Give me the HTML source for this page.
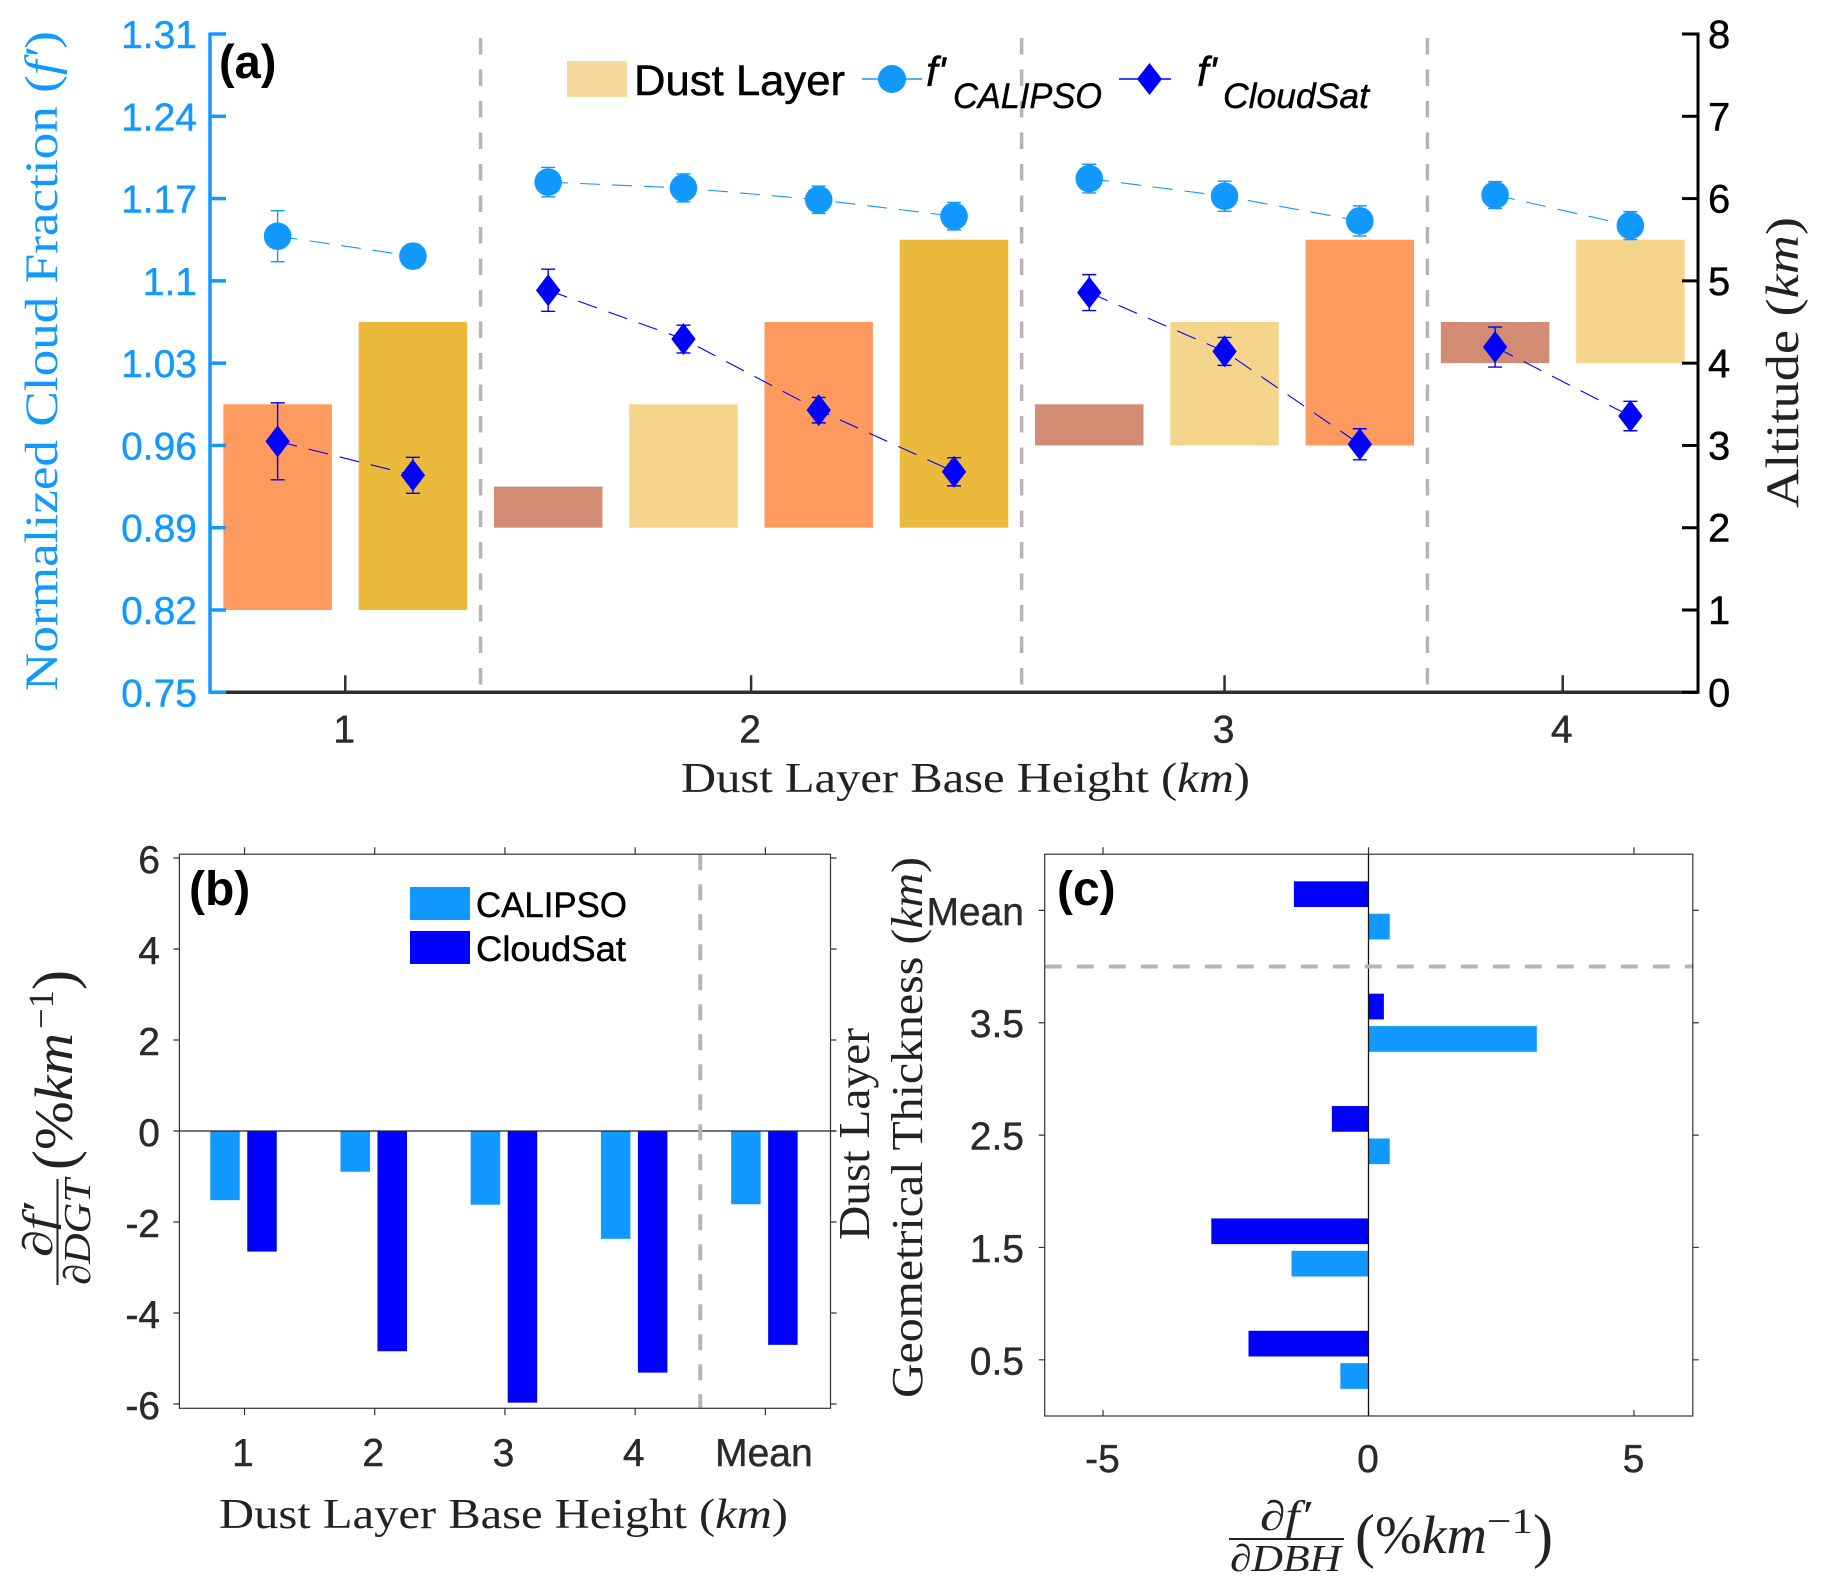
<!DOCTYPE html>
<html lang="en">
<head>
<meta charset="utf-8">
<title>Dust layer cloud fraction chart</title>
<style>
html,body{margin:0;padding:0;background:#fff;width:1828px;height:1590px;overflow:hidden}
svg{display:block}
.sans{font-family:"Liberation Sans",Arial,sans-serif}
.serif{font-family:"Liberation Serif","Times New Roman",serif}
</style>
</head>
<body>
<svg id="figure" xmlns="http://www.w3.org/2000/svg" width="1828" height="1590" viewBox="0 0 1828 1590">
  <rect x="0" y="0" width="1828" height="1590" fill="#ffffff"/>
  <g id="panelA"></g>
  <g id="panelB"></g>
  <g id="panelC"></g>

  <!-- panel a static text and legend -->
  <text class="sans" x="219" y="78" font-size="47" font-weight="bold" fill="#000">(a)</text>
  <text class="serif" transform="rotate(-90 57 691)" x="57" y="691" font-size="47" fill="#1199ff" textLength="660" lengthAdjust="spacingAndGlyphs">Normalized Cloud Fraction (<tspan font-style="italic">f′</tspan>)</text>
  <text class="serif" transform="rotate(-90 1798 508)" x="1798" y="508" font-size="47" fill="#222" textLength="291" lengthAdjust="spacingAndGlyphs">Altitude (<tspan font-style="italic">km</tspan>)</text>
  <text class="serif" x="681" y="792" font-size="42" fill="#222" textLength="569" lengthAdjust="spacingAndGlyphs">Dust Layer Base Height (<tspan font-style="italic">km</tspan>)</text>

  <g>
    <rect x="567" y="61" width="60" height="36" fill="#f6da9c"/>
    <text class="sans" x="634" y="95" font-size="43" fill="#000" stroke="#000" stroke-width="0.5" textLength="211" lengthAdjust="spacingAndGlyphs">Dust Layer</text>
    <line x1="862" y1="79" x2="922" y2="79" stroke="#1199ff" stroke-width="1.5"/>
    <circle cx="892" cy="79" r="14" fill="#1199ff"/>
    <text class="sans" x="926" y="86" font-size="42" font-style="italic" fill="#000" stroke="#000" stroke-width="0.4">f'</text>
    <text class="sans" x="953" y="108" font-size="35" font-style="italic" fill="#000" stroke="#000" stroke-width="0.4" textLength="149" lengthAdjust="spacingAndGlyphs">CALIPSO</text>
    <line x1="1119" y1="79" x2="1171" y2="79" stroke="#0000ff" stroke-width="1.5"/>
    <polygon points="1149.5,63 1162,79 1149.5,95 1137,79" fill="#0000ff"/>
    <text class="sans" x="1197" y="86" font-size="42" font-style="italic" fill="#000" stroke="#000" stroke-width="0.4">f'</text>
    <text class="sans" x="1223" y="108" font-size="35" font-style="italic" fill="#000" stroke="#000" stroke-width="0.4" textLength="146" lengthAdjust="spacingAndGlyphs">CloudSat</text>
  </g>

  <!-- panel b static text and legend -->
  <text class="sans" x="189" y="905" font-size="48" font-weight="bold" fill="#000">(b)</text>
  <rect x="410" y="887" width="60" height="33" fill="#1199ff"/>
  <rect x="410" y="931" width="60" height="33" fill="#0000ff"/>
  <text class="sans" x="476" y="917" font-size="35" fill="#000" stroke="#000" stroke-width="0.4" textLength="151" lengthAdjust="spacingAndGlyphs">CALIPSO</text>
  <text class="sans" x="476" y="961" font-size="35" fill="#000" stroke="#000" stroke-width="0.4" textLength="150" lengthAdjust="spacingAndGlyphs">CloudSat</text>
  <text class="serif" x="219" y="1528" font-size="42" fill="#222" textLength="569" lengthAdjust="spacingAndGlyphs">Dust Layer Base Height (<tspan font-style="italic">km</tspan>)</text>
  <g fill="#222" class="serif">
    <text transform="rotate(-90 52 1257)" x="52" y="1257" font-size="42" font-style="italic" textLength="54" lengthAdjust="spacingAndGlyphs">∂f′</text>
    <line x1="57.5" y1="1179" x2="57.5" y2="1285" stroke="#222" stroke-width="2"/>
    <text transform="rotate(-90 90 1285)" x="90" y="1285" font-size="38" font-style="italic" textLength="106" lengthAdjust="spacingAndGlyphs">∂DGT</text>
    <text transform="rotate(-90 74 1170)" x="74" y="1170" font-size="60">(</text>
    <text transform="rotate(-90 72 1150)" x="72" y="1150" font-size="54" textLength="117" lengthAdjust="spacingAndGlyphs">%<tspan font-style="italic">km</tspan></text>
    <text transform="rotate(-90 53 1029)" x="53" y="1029" font-size="36" textLength="39" lengthAdjust="spacingAndGlyphs">−1</text>
    <text transform="rotate(-90 74 990)" x="74" y="990" font-size="60">)</text>
  </g>

  <!-- panel c static text -->
  <text class="sans" x="1057" y="905" font-size="48" font-weight="bold" fill="#000">(c)</text>
  <text class="serif" transform="rotate(-90 869 1240)" x="869" y="1240" font-size="44" fill="#222" textLength="212" lengthAdjust="spacingAndGlyphs">Dust Layer</text>
  <text class="serif" transform="rotate(-90 922 1398)" x="922" y="1398" font-size="44" fill="#222" textLength="541" lengthAdjust="spacingAndGlyphs">Geometrical Thickness (<tspan font-style="italic">km</tspan>)</text>
  <g fill="#222" class="serif">
    <text x="1260" y="1530" font-size="42" font-style="italic" textLength="51" lengthAdjust="spacingAndGlyphs">∂f′</text>
    <line x1="1229" y1="1539" x2="1344" y2="1539" stroke="#222" stroke-width="2"/>
    <text x="1230" y="1571" font-size="38" font-style="italic" textLength="111" lengthAdjust="spacingAndGlyphs">∂DBH</text>
    <text x="1355" y="1556" font-size="60">(</text>
    <text x="1375" y="1553" font-size="54" textLength="112" lengthAdjust="spacingAndGlyphs">%<tspan font-style="italic">km</tspan></text>
    <text x="1487" y="1533" font-size="36" textLength="46" lengthAdjust="spacingAndGlyphs">−1</text>
    <text x="1533" y="1556" font-size="60">)</text>
  </g>
</svg>

<script>
// ---------- Panel (a) data ----------
const aLayerBases = [1, 1, 2, 2, 2, 2, 3, 3, 3, 4, 4];
const aLayerTops = [3.5, 4.5, 2.5, 3.5, 4.5, 5.5, 3.5, 4.5, 5.5, 4.5, 5.5];
const aCalipso = [1.138, 1.121, 1.184, 1.179, 1.169, 1.155, 1.187, 1.172, 1.151, 1.173, 1.147];
const aCalipsoErr = [0.0217, 0.010, 0.0125, 0.0119, 0.0116, 0.0117, 0.0122, 0.0128, 0.0128, 0.0115, 0.0119];
const aCloudsat = [0.9635, 0.9346, 1.092, 1.0505, 0.990, 0.9376, 1.090, 1.040, 0.961, 1.0437, 0.985];
const aCloudsatErr = [0.0327, 0.0153, 0.0179, 0.0118, 0.0108, 0.0120, 0.0153, 0.0119, 0.0132, 0.0170, 0.0125];
const aLeftTickLabels = ['0.75', '0.82', '0.89', '0.96', '1.03', '1.1', '1.17', '1.24', '1.31'];
const aRightTickLabels = ['0', '1', '2', '3', '4', '5', '6', '7', '8'];
const aXTickLabels = ['1', '2', '3', '4'];
const aXTickIndex = [1.5, 4.5, 8, 10.5];
const aSeparators = [2.5, 6.5, 9.5];

// ---------- Panel (b) data ----------
const bCategories = ['1', '2', '3', '4', 'Mean'];
const bCalipso = [-1.52, -0.895, -1.62, -2.37, -1.61];
const bCloudsat = [-2.65, -4.84, -5.97, -5.31, -4.70];
const bYTickLabels = ['-6', '-4', '-2', '0', '2', '4', '6'];

// ---------- Panel (c) data ----------
const cCategories = ['0.5', '1.5', '2.5', '3.5', 'Mean'];
const cCalipso = [-0.53, -1.45, 0.40, 3.17, 0.40];
const cCloudsat = [-2.26, -2.96, -0.69, 0.29, -1.405];
const cXTickLabels = ['-5', '0', '5'];

// ---------- Helpers ----------
const SVG_NS = 'http://www.w3.org/2000/svg';
const SANS = '"Liberation Sans", Arial, sans-serif';
const BLUE = '#1199ff';
const DEEP = '#0000ff';
const INK = '#2a2a2a';
const GREY = '#b5b5b5';
const TICK_FONT = 39;

function add(parent, tag, attrs, text) {
  const node = document.createElementNS(SVG_NS, tag);
  for (const k in attrs) node.setAttribute(k, attrs[k]);
  if (text !== undefined) node.textContent = text;
  parent.appendChild(node);
  return node;
}
let el;

// ---------- Panel (a) ----------
const pa = document.getElementById('panelA');
const aBox = { left: 210, right: 1698, top: 34, bottom: 692.3 };
const aX = v => aBox.left + (v - 0.5) * (aBox.right - aBox.left) / 11;
const aYLeft = v => aBox.bottom - (v - 0.75) * (aBox.bottom - aBox.top) / 0.56;
const aYRight = v => aBox.bottom - v * (aBox.bottom - aBox.top) / 8;
const thicknessColors = { '0.5': '#d38c74', '1.5': '#f5d58c', '2.5': '#ff9a5e', '3.5': '#ebb93c' };
const aBarWidth = 108.5;

aLayerBases.forEach((base, i) => {
  const top = aLayerTops[i];
  el = add(pa, 'rect', {
    x: aX(i + 1) - aBarWidth / 2,
    y: aYRight(top),
    width: aBarWidth,
    height: aYRight(base) - aYRight(top),
    fill: thicknessColors[String(top - base)]
  });
  
  
});

aSeparators.forEach(v => {
  el = add(pa, 'line', { x1: aX(v), x2: aX(v), y1: 38, y2: aBox.bottom, stroke: GREY, 'stroke-width': 3.5, 'stroke-dasharray': '16.5 15' });
  
  
});

// axes
el = add(pa, 'line', { x1: aBox.left, x2: aBox.right, y1: aBox.bottom, y2: aBox.bottom, stroke: '#2f2f2f', 'stroke-width': 3.5 });


el = add(pa, 'line', { x1: aBox.left, x2: aBox.left, y1: aBox.top - 1.5, y2: aBox.bottom + 1.5, stroke: BLUE, 'stroke-width': 3.5 });


el = add(pa, 'line', { x1: aBox.right, x2: aBox.right, y1: aBox.top - 1.5, y2: aBox.bottom + 1.5, stroke: '#000', 'stroke-width': 3 });



aLeftTickLabels.forEach(label => {
  const y = aYLeft(parseFloat(label));
  el = add(pa, 'line', { x1: aBox.left, x2: aBox.left + 16, y1: y, y2: y, stroke: BLUE, 'stroke-width': 3.5 });
  
  
  el = add(pa, 'text', { x: 197, y: y + 14, 'text-anchor': 'end', 'font-family': SANS, 'font-size': TICK_FONT, fill: BLUE, stroke: BLUE, 'stroke-width': 0.4 }, label);
  
  
});

aRightTickLabels.forEach(label => {
  const y = aYRight(parseFloat(label));
  el = add(pa, 'line', { x1: aBox.right - 16, x2: aBox.right, y1: y, y2: y, stroke: '#000', 'stroke-width': 3 });
  
  
  el = add(pa, 'text', { x: 1708, y: y + 14, 'font-family': SANS, 'font-size': 40, fill: '#000', stroke: '#000', 'stroke-width': 0.4 }, label);
  
  
});

aXTickLabels.forEach((label, i) => {
  const x = aX(aXTickIndex[i]);
  el = add(pa, 'line', { x1: x, x2: x, y1: aBox.bottom - 17, y2: aBox.bottom, stroke: '#2f2f2f', 'stroke-width': 2.5 });
  
  
  el = add(pa, 'text', { x: x - 1, y: 742.5, 'text-anchor': 'middle', 'font-family': SANS, 'font-size': TICK_FONT, fill: INK, stroke: INK, 'stroke-width': 0.4 }, label);
  
  
});

// series: a dashed connector per base-height group, then error bars and markers
function drawSeries(values, errors, color, seriesName, markerKind) {
  let group = [];
  values.forEach((v, i) => {
    group.push(aX(i + 1) + ',' + aYLeft(v));
    const endsGroup = i === values.length - 1 || aLayerBases[i + 1] !== aLayerBases[i];
    if (endsGroup) {
      el = add(pa, 'polyline', { points: group.join(' '), fill: 'none', stroke: color, 'stroke-width': 1.1, 'stroke-dasharray': '20 12' });
      
      
      group = [];
    }
  });
  values.forEach((v, i) => {
    const x = aX(i + 1);
    const y = aYLeft(v);
    const hi = aYLeft(v + errors[i]);
    const lo = aYLeft(v - errors[i]);
    el = add(pa, 'path', {
      d: 'M' + x + ' ' + hi + 'V' + lo + 'M' + (x - 7) + ' ' + hi + 'H' + (x + 7) + 'M' + (x - 7) + ' ' + lo + 'H' + (x + 7),
      fill: 'none', stroke: color, 'stroke-width': 1.4
    });
    
    
    if (markerKind === 'circle') {
      el = add(pa, 'circle', { cx: x, cy: y, r: 13.8, fill: color });
    } else {
      el = add(pa, 'polygon', {
        points: x + ',' + (y - 16) + ' ' + (x + 12.2) + ',' + y + ' ' + x + ',' + (y + 16) + ' ' + (x - 12.2) + ',' + y,
        fill: color
      });
    }
    
    
  });
}
drawSeries(aCalipso, aCalipsoErr, BLUE, 'calipso', 'circle');
drawSeries(aCloudsat, aCloudsatErr, DEEP, 'cloudsat', 'diamond');

// ---------- Panel (b) ----------
const pb = document.getElementById('panelB');
const bBox = { left: 179.4, right: 830.5, top: 854.2, bottom: 1408.3 };
const bX = v => bBox.left + (v - 0.5) * (bBox.right - bBox.left) / 5;
const bY = v => 1131 - v * 45.5;
const bBarWidth = 29.5;
const bOffset = 18.5;

bCategories.forEach((label, i) => {
  const cx = bX(i + 1);
  el = add(pb, 'rect', { x: cx - 1 - bOffset - bBarWidth / 2, y: bY(0), width: bBarWidth, height: bY(bCalipso[i]) - bY(0), fill: BLUE });
  
  
  el = add(pb, 'rect', { x: cx - 1 + bOffset - bBarWidth / 2, y: bY(0), width: bBarWidth, height: bY(bCloudsat[i]) - bY(0), fill: DEEP });
  
  
  el = add(pb, 'path', { d: 'M' + cx + ' ' + bBox.top + 'v-7M' + cx + ' ' + bBox.bottom + 'v7', stroke: '#333', 'stroke-width': 1.2, fill: 'none' });
  
  
  el = add(pb, 'text', { x: cx - 1.5, y: 1466, 'text-anchor': 'middle', 'font-family': SANS, 'font-size': TICK_FONT, fill: INK, stroke: INK, 'stroke-width': 0.4 }, label);
  
  
});

bYTickLabels.forEach(label => {
  const y = bY(parseFloat(label));
  el = add(pb, 'path', { d: 'M' + bBox.left + ' ' + y + 'h-6M' + bBox.right + ' ' + y + 'h6', stroke: '#333', 'stroke-width': 1.2, fill: 'none' });
  
  
  el = add(pb, 'text', { x: 160, y: y + 15, 'text-anchor': 'end', 'font-family': SANS, 'font-size': TICK_FONT, fill: INK, stroke: INK, 'stroke-width': 0.4 }, label);
  
  
});

el = add(pb, 'line', { x1: bBox.left, x2: bBox.right + 6, y1: bY(0), y2: bY(0), stroke: '#222', 'stroke-width': 1.3 });


el = add(pb, 'line', { x1: bX(4.5), x2: bX(4.5), y1: bBox.top, y2: bBox.bottom, stroke: GREY, 'stroke-width': 4, 'stroke-dasharray': '16 14' });


el = add(pb, 'rect', { x: bBox.left, y: bBox.top, width: bBox.right - bBox.left, height: bBox.bottom - bBox.top, fill: 'none', stroke: '#333', 'stroke-width': 1.2 });



// ---------- Panel (c) ----------
const pc = document.getElementById('panelC');
const cBox = { left: 1044.7, right: 1692.8, top: 854.2, bottom: 1416 };
const cX = v => 1368.5 + v * 53.1;
const cY = v => cBox.bottom - v * (cBox.bottom - cBox.top) / 5;
const cBarHeight = 25.7;
const cOffset = 16.2;

cCategories.forEach((label, i) => {
  const cy = cY(i + 0.5);
  const calX = cX(cCalipso[i]);
  const cldX = cX(cCloudsat[i]);
  el = add(pc, 'rect', { x: Math.min(calX, cX(0)), y: cy + cOffset - cBarHeight / 2, width: Math.abs(calX - cX(0)), height: cBarHeight, fill: BLUE });
  
  
  el = add(pc, 'rect', { x: Math.min(cldX, cX(0)), y: cy - cOffset - cBarHeight / 2, width: Math.abs(cldX - cX(0)), height: cBarHeight, fill: DEEP });
  
  
  el = add(pc, 'path', { d: 'M' + cBox.left + ' ' + cy + 'h-6M' + cBox.right + ' ' + cy + 'h6', stroke: '#333', 'stroke-width': 1.2, fill: 'none' });
  
  
  el = add(pc, 'text', { x: 1024, y: cy + 14.5, 'text-anchor': 'end', 'font-family': SANS, 'font-size': TICK_FONT, fill: INK, stroke: INK, 'stroke-width': 0.4 }, label);
  
  
});

cXTickLabels.forEach(label => {
  const x = cX(parseFloat(label));
  el = add(pc, 'path', { d: 'M' + x + ' ' + cBox.top + 'v-7M' + x + ' ' + cBox.bottom + 'v-6', stroke: '#333', 'stroke-width': 1.2, fill: 'none' });
  
  
  el = add(pc, 'text', { x: x - 0.5, y: 1472, 'text-anchor': 'middle', 'font-family': SANS, 'font-size': TICK_FONT, fill: INK, stroke: INK, 'stroke-width': 0.4 }, label);
  
  
});

el = add(pc, 'line', { x1: cX(0), x2: cX(0), y1: cBox.top, y2: cBox.bottom, stroke: '#111', 'stroke-width': 1.3 });


el = add(pc, 'line', { x1: cBox.left, x2: cBox.right, y1: cY(4), y2: cY(4), stroke: GREY, 'stroke-width': 4, 'stroke-dasharray': '17 15' });


el = add(pc, 'rect', { x: cBox.left, y: cBox.top, width: cBox.right - cBox.left, height: cBox.bottom - cBox.top, fill: 'none', stroke: '#333', 'stroke-width': 1.2 });


</script>
</body>
</html>
